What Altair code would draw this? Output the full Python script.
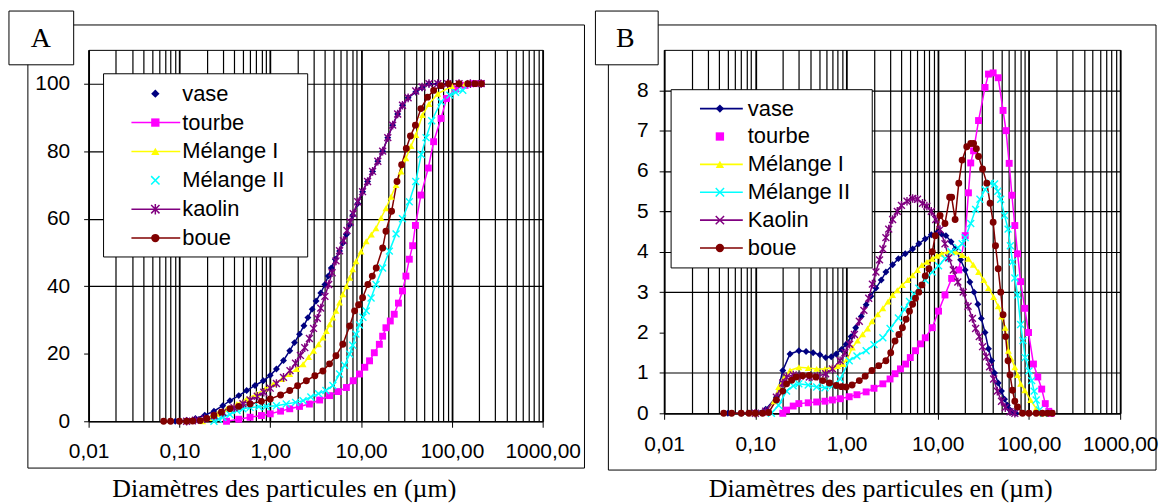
import altair as alt
import pandas as pd

# ---------------------------------------------------------------------------
# A : cumulative distribution (%) versus particle diameter (um)
# ---------------------------------------------------------------------------
A_NAMES = ["vase", "tourbe", "Mélange I", "Mélange II", "kaolin", "boue"]

A_VASE_UM = [0.09, 0.12, 0.15, 0.19, 0.24, 0.3, 0.36, 0.45, 0.55, 0.68, 0.84, 1.0, 1.17, 1.4, 1.64,
             1.85, 2.1, 2.35, 2.6, 2.9, 3.2, 3.6, 4.0, 4.35, 4.7, 5.2, 5.8, 6.3, 6.9, 7.5, 8.1, 9.2,
             10.4, 11.8, 13.4, 15.3, 17.3, 19.7, 22.3, 25.3, 28.6, 33, 40, 47, 56, 70, 90]
A_VASE_PCT = [0, 0.3, 0.8, 1.8, 3, 4.6, 6.1, 7.6, 9.1, 10.6, 12, 13.6, 15.5, 18, 20.9, 23.3, 25.8,
              28.3, 30.7, 33.2, 35.6, 38, 40.5, 43, 45.4, 48, 50.4, 52.8, 55.3, 58.2, 61, 64.5, 68,
              71, 74, 77, 80, 84, 87.7, 91, 93.6, 95.8, 97.5, 98.8, 100, 100, 100]

A_TOURBE_UM = [0.33, 0.45, 0.6, 0.8, 1.0, 1.3, 1.64, 2.1, 2.7, 3.5, 4.5, 5.6, 6.9, 8.2, 9.6, 11,
               12.4, 14, 15.9, 17.3, 18.8, 21, 23.2, 25.8, 28.6, 31.2, 34, 37, 39.7, 45.6, 55, 63,
               76, 87.5, 110, 140, 175, 210]
A_TOURBE_PCT = [0, 0.6, 1.2, 1.7, 2.2, 3.0, 3.7, 4.4, 5.1, 6.3, 7.6, 8.8, 10, 12, 14, 16, 17.9,
                20.3, 22.8, 25.2, 27.7, 29.7, 31.7, 35, 38.6, 43, 48, 52, 58, 67, 75, 82.8, 89.7,
                95.6, 98.5, 99.5, 100, 100]

A_MEL1_UM = [0.18, 0.22, 0.26, 0.33, 0.43, 0.55, 0.71, 0.88, 1.08, 1.35, 1.64, 1.95, 2.3, 2.65, 3.0,
             3.4, 3.8, 4.15, 4.5, 4.9, 5.3, 5.8, 6.3, 6.9, 7.5, 8.1, 8.8, 10, 11.4, 13, 14.6, 16.6,
             18.8, 21.4, 24.3, 27.6, 31.2, 35.5, 40.2, 47.5, 56, 70, 100, 140, 210]
A_MEL1_PCT = [0, 1.0, 2.2, 3.6, 5.1, 6.6, 8.1, 9.6, 11, 12.5, 14, 15.5, 16.9, 19, 20.9, 22.8, 24.8,
              26.7, 28.7, 30.7, 32.7, 35.2, 37.6, 40, 42.5, 45, 47.4, 50.3, 53.3, 55.3, 57.2, 60.2,
              63.1, 66.5, 70, 74, 77.9, 81.5, 84.8, 90.7, 94, 97, 99.3, 100, 100]

A_MEL2_UM = [0.24, 0.27, 0.3, 0.36, 0.43, 0.5, 0.6, 0.75, 0.9, 1.17, 1.5, 1.9, 2.3, 2.8, 3.4, 4.1,
             4.9, 5.8, 6.6, 7.5, 8.1, 8.8, 9.6, 10.5, 11.4, 12.9, 14.6, 17.3, 20.5, 24.3, 28.6, 34,
             40, 46, 52, 60, 76, 95, 110, 132]
A_MEL2_PCT = [0, 0.6, 1.2, 2.0, 3.2, 3.7, 4.1, 4.3, 4.4, 4.6, 5.1, 5.6, 6.1, 7.2, 8.2, 9.1, 10.6, 14,
              16.6, 19.9, 22.5, 25.8, 28.5, 30.8, 32.7, 36.5, 40.5, 45.4, 50.4, 55.5, 60, 65, 71, 79,
              84, 89, 94.6, 96.6, 97.4, 98]

A_KAOLIN_UM = [0.12, 0.15, 0.19, 0.24, 0.3, 0.4, 0.5, 0.6, 0.72, 0.85, 1.0, 1.17, 1.4, 1.65, 1.9,
               2.15, 2.4, 2.7, 3.0, 3.3, 3.6, 4.0, 4.4, 4.8, 5.3, 5.8, 6.4, 7.0, 7.6, 8.2, 9.2, 10.4,
               11.8, 13.4, 15.3, 17.3, 19.7, 22.3, 25.3, 28.6, 33, 40, 47, 56, 70, 90, 120, 160, 210]
A_KAOLIN_PCT = [0, 0.3, 0.8, 1.6, 2.6, 4.0, 5.2, 6.3, 7.4, 8.6, 9.8, 11.2, 13, 15, 17.2, 19.5, 21.8,
                24.5, 27.5, 30.5, 33.5, 37, 40.5, 44, 47.5, 50.5, 53.5, 56.5, 59, 61.5, 65, 68, 71,
                74, 77, 80, 84, 87.7, 91, 93.6, 95.8, 97.8, 99, 100, 100, 100, 100, 100, 100]

A_BOUE_UM = [0.067, 0.08, 0.1, 0.12, 0.14, 0.17, 0.2, 0.24, 0.29, 0.36, 0.45, 0.6, 0.8, 1.0, 1.3,
             1.64, 2.0, 2.5, 3.1, 3.8, 4.5, 5.3, 6.3, 7.5, 8.5, 9.4, 10.4, 11.9, 13.3, 14.7, 17.3,
             18.8, 21.7, 24.9, 28, 31.5, 35, 39.7, 45.6, 54, 63, 76, 92, 120, 150, 180, 212]
A_BOUE_PCT = [0, 0, 0, 0, 0.1, 0.2, 0.8, 1.7, 2.7, 3.7, 4.4, 5.1, 5.9, 6.6, 7.8, 9.1, 10.5, 12, 13.5,
              14.9, 17, 19.4, 22.8, 28.2, 32.7, 34.5, 36.6, 40.5, 43, 45.4, 51.3, 56.3, 62.2, 71, 76,
              80.8, 84.5, 87.7, 92.6, 96, 98, 99.4, 100, 100, 100, 100, 100]

# ---------------------------------------------------------------------------
# B : frequency distribution (%) versus particle diameter (um)
# ---------------------------------------------------------------------------
B_NAMES = ["vase", "tourbe", "Mélange I", "Mélange II", "Kaolin", "boue"]

B_VASE_UM = [0.05, 0.07, 0.1, 0.13, 0.17, 0.2, 0.24, 0.3, 0.36, 0.43, 0.51, 0.59, 0.68, 0.77, 0.88,
             0.99, 1.12, 1.26, 1.45, 1.64, 1.85, 2.1, 2.4, 2.7, 3.2, 3.7, 4.4, 5.3, 6.2, 7.3, 8.5,
             9.9, 11, 12.3, 14, 15.6, 17.8, 20, 22.5, 25, 27.5, 30, 33, 36, 39, 42, 46, 50, 54, 58,
             62, 66, 72]
B_VASE_PCT = [0, 0, 0.02, 0.1, 0.4, 1.06, 1.47, 1.55, 1.53, 1.5, 1.45, 1.38, 1.4, 1.47, 1.58, 1.71,
              1.9, 2.12, 2.4, 2.69, 2.9, 3.1, 3.3, 3.5, 3.68, 3.83, 3.95, 4.07, 4.2, 4.32, 4.42, 4.48,
              4.44, 4.4, 4.25, 4.07, 3.8, 3.55, 3.25, 3.0, 2.7, 2.35, 2.0, 1.6, 1.3, 1.0, 0.75, 0.55,
              0.35, 0.2, 0.08, 0.02, 0]

B_TOURBE_UM = [0.2, 0.22, 0.26, 0.3, 0.38, 0.47, 0.58, 0.7, 0.85, 1.07, 1.3, 1.64, 2.0, 2.5, 3.0,
               3.4, 3.9, 4.45, 5.0, 5.7, 6.5, 7.3, 8.7, 10.2, 12, 14.2, 17, 20, 21.7, 23, 24.7, 28,
               33, 36, 40.5, 46, 52, 56, 60.7, 65, 70, 75, 81, 90, 99, 112, 125, 138, 151, 165, 175]
B_TOURBE_PCT = [0, 0.08, 0.18, 0.24, 0.26, 0.28, 0.3, 0.33, 0.36, 0.41, 0.46, 0.53, 0.62, 0.73, 0.85,
                0.98, 1.1, 1.22, 1.38, 1.55, 1.72, 1.87, 2.12, 2.53, 2.93, 3.34, 3.55, 4.4, 5.46, 6.2,
                6.5, 7.25, 8.07, 8.4, 8.43, 8.31, 7.5, 7.0, 6.19, 5.4, 4.65, 3.95, 3.26, 2.6, 2.0,
                1.22, 0.9, 0.6, 0.24, 0.05, 0]

B_MEL1_UM = [0.1, 0.13, 0.16, 0.18, 0.21, 0.24, 0.3, 0.38, 0.47, 0.58, 0.7, 0.8, 0.91, 1.02, 1.16,
             1.32, 1.5, 1.7, 1.9, 2.2, 2.5, 2.85, 3.2, 3.6, 4.1, 4.7, 5.3, 6.0, 6.7, 7.6, 8.7, 9.8,
             11, 13, 15.6, 18.5, 21.7, 24.5, 28, 32, 36, 41, 46, 50, 55, 59.5, 64, 70, 75, 81, 90,
             104, 120, 140]
B_MEL1_PCT = [0, 0.05, 0.3, 0.65, 0.9, 1.06, 1.14, 1.12, 1.1, 1.1, 1.14, 1.17, 1.22, 1.35, 1.63, 1.8,
              1.96, 2.1, 2.28, 2.45, 2.6, 2.77, 2.93, 3.05, 3.18, 3.3, 3.42, 3.55, 3.67, 3.75, 3.83,
              3.9, 3.95, 4.0, 4.0, 3.92, 3.83, 3.68, 3.5, 3.3, 3.1, 2.88, 2.65, 2.4, 2.12, 1.55,
              1.35, 1.14, 0.95, 0.73, 0.57, 0.33, 0.12, 0]

B_MEL2_UM = [0.15, 0.18, 0.22, 0.26, 0.3, 0.38, 0.47, 0.58, 0.7, 0.85, 1.07, 1.3, 1.64, 2.0, 2.5,
             3.0, 3.7, 4.3, 4.9, 5.5, 6.2, 7.3, 8.7, 10.2, 12, 14, 16.6, 18.5, 20, 23, 26, 29, 33,
             37.7, 42, 45.5, 49, 54, 59, 62.5, 66, 70, 75, 81, 86, 91, 100, 107, 114, 120, 130, 145]
B_MEL2_PCT = [0, 0.2, 0.55, 0.68, 0.73, 0.7, 0.65, 0.63, 0.68, 0.85, 1.3, 1.42, 1.55, 1.7, 1.87, 2.1,
              2.36, 2.57, 2.77, 2.95, 3.1, 3.3, 3.5, 3.65, 3.83, 4.0, 4.1, 4.2, 4.35, 4.7, 5.05, 5.3,
              5.54, 5.7, 5.68, 5.5, 5.3, 4.9, 4.56, 4.15, 3.75, 3.35, 2.93, 2.2, 1.8, 1.38, 1.05,
              0.81, 0.55, 0.33, 0.08, 0]

B_KAOLIN_UM = [0.1, 0.13, 0.17, 0.2, 0.22, 0.26, 0.31, 0.39, 0.48, 0.59, 0.7, 0.85, 0.96, 1.08, 1.22,
               1.38, 1.55, 1.75, 1.92, 2.1, 2.3, 2.5, 2.7, 2.9, 3.2, 3.6, 4.0, 4.6, 5.3, 6.0, 6.8,
               7.6, 8.5, 9.5, 10.6, 12, 13.2, 14.8, 16.6, 19, 21.5, 24, 26, 28.5, 31, 34, 37, 41, 45,
               50, 55, 62, 70]
B_KAOLIN_PCT = [0, 0.05, 0.4, 0.75, 0.9, 0.95, 0.92, 0.9, 0.92, 0.98, 1.1, 1.3, 1.5, 1.71, 1.95, 2.28,
                2.55, 2.85, 3.2, 3.5, 3.8, 4.07, 4.35, 4.56, 4.8, 5.0, 5.15, 5.25, 5.32, 5.3, 5.2,
                5.13, 5.0, 4.8, 4.55, 4.2, 3.85, 3.55, 3.25, 3.0, 2.65, 2.35, 2.1, 1.9, 1.65, 1.4,
                1.15, 0.85, 0.55, 0.3, 0.14, 0.04, 0]

B_BOUE_UM = [0.045, 0.055, 0.07, 0.085, 0.1, 0.12, 0.14, 0.17, 0.2, 0.22, 0.25, 0.28, 0.33, 0.39,
             0.46, 0.55, 0.65, 0.77, 0.88, 0.99, 1.15, 1.38, 1.6, 1.9, 2.25, 2.7, 3.05, 3.4, 3.75,
             4.1, 4.5, 4.9, 5.3, 5.7, 6.2, 6.7, 7.3, 8.0, 8.7, 9.4, 10.6, 12, 13.5, 14.2, 15.5, 17,
             18.5, 20.8, 23, 24.7, 26.5, 28, 31, 34.5, 37.5, 40.5, 43, 46, 49, 52, 55.5, 59, 62, 66,
             70, 75, 85, 100, 120, 140, 160, 180]
B_BOUE_PCT = [0, 0, 0, 0, 0, 0, 0.02, 0.33, 0.55, 0.73, 0.82, 0.9, 0.93, 0.94, 0.9, 0.81, 0.75, 0.69,
              0.66, 0.65, 0.7, 0.81, 0.92, 1.06, 1.18, 1.3, 1.5, 1.79, 1.95, 2.12, 2.33, 2.53, 2.7,
              2.85, 3.0, 3.18, 3.4, 3.58, 4.0, 4.4, 4.9, 4.7, 5.35, 5.35, 4.8, 5.7, 6.27, 6.6, 6.68,
              6.68, 6.55, 6.36, 6.05, 5.7, 5.2, 4.73, 4.15, 3.58, 3.0, 2.44, 1.9, 1.3, 0.95, 0.57,
              0.3, 0.16, 0, 0, 0, 0, 0, 0]

X_TITLE = "Diamètres des particules en (µm)"

# ---------------------------------------------------------------------------
# styling
# ---------------------------------------------------------------------------
COLORS = ["#000080", "#FF00FF", "#FFFF00", "#00FFFF", "#800080", "#800000"]
SANS = "Liberation Sans"
SERIF = "Liberation Serif"

X_PATH = "M-1,-1L1,1M-1,1L1,-1"
STAR_PATH = "M-1,-1L1,1M-1,1L1,-1M0,-1.25L0,1.25"
# (shape, filled) of the plotted markers, in series order
MARKERS = [("diamond", True), ("square", True), ("triangle-up", True),
           (X_PATH, False), (STAR_PATH, False), ("circle", True)]

# key glyphs: (shape, filled) and whether a line segment runs through the glyph
A_KEY_MARKS = MARKERS
A_KEY_SEG = [False, True, True, False, True, True]
B_KEY_MARKS = [("diamond", True), ("square", True), ("triangle-up", True),
               (X_PATH, False), (X_PATH, False), ("circle", True)]
B_KEY_SEG = [True, False, True, True, True, True]

DECADE = "abs(log(datum.value) / LN10 - round(log(datum.value) / LN10)) < 0.001"
GRID_AT = [m * 10.0 ** e for e in range(-2, 3) for m in range(1, 10)] + [1000.0]


def long_table(names, pairs):
    rows = []
    for name, (um, pct) in zip(names, pairs):
        if len(um) != len(pct):
            raise ValueError(f"{name}: {len(um)} diameters but {len(pct)} values")
        rows += [{"serie": name, "um": d, "pct": p} for d, p in zip(um, pct)]
    return pd.DataFrame(rows)


def key_layers(names, key_marks, key_seg, *, box, first, step, seg, mark_x, label_x):
    """Boxed key drawn inside the plot area (pixel offsets from the plot origin)."""
    rows = pd.DataFrame({"serie": names, "rank": list(range(len(names)))})
    kb = alt.Chart(rows).transform_calculate(py=f"{first} + datum.rank * {step}")
    ky = alt.Y("py:Q", scale=None, axis=None)
    one = alt.Chart(alt.Data(values=[{"k": 0}]))
    frame = one.mark_rect(fill="white", stroke="black", strokeWidth=1).encode(
        x=alt.value(box[0]), x2=alt.value(box[1]), y=alt.value(box[2]), y2=alt.value(box[3])
    )
    with_seg = [n for n, s in zip(names, key_seg) if s]
    segs = kb.transform_filter(alt.FieldOneOfPredicate(field="serie", oneOf=with_seg)).mark_rule(
        strokeWidth=1.6
    ).encode(
        x=alt.value(seg[0]), x2=alt.value(seg[1]), y=ky,
        color=alt.Color("serie:N", scale=alt.Scale(domain=names, range=COLORS), legend=None),
    )
    glyphs = [
        kb.transform_filter(alt.datum.serie == name)
        .mark_point(shape=shape, filled=filled, color=col, size=70, opacity=1, strokeWidth=1.5)
        .encode(x=alt.value(mark_x), y=ky)
        for name, col, (shape, filled) in zip(names, COLORS, key_marks)
    ]
    labels = kb.mark_text(align="left", baseline="middle", font=SANS, fontSize=22, color="black").encode(
        x=alt.value(label_x), y=ky, text="serie:N"
    )
    return [frame, segs, *glyphs, labels]


def panel(table, names, key, *, width, height, y_max, y_ticks, y_no_grid, y_pad, x_pad,
          frame, tag, tag_box, tag_xy, title_x, title_y):
    x = alt.X(
        "um:Q",
        scale=alt.Scale(type="log", domain=[0.01, 1000], nice=False),
        axis=alt.Axis(
            values=GRID_AT, grid=True, gridColor="black", gridOpacity=1,
            gridWidth={"condition": {"test": DECADE, "value": 1.8}, "value": 1.2},
            ticks=True, tickSize=6, tickColor="black", tickWidth=1,
            tickOpacity={"condition": {"test": DECADE, "value": 1}, "value": 0},
            labelExpr=f"({DECADE}) ? replace(format(datum.value, '.2f'), '.', ',') : ''",
            labelFont=SANS, labelFontSize=21, labelColor="black", labelPadding=x_pad,
            labelOverlap=False, labelFlush=False,
            domainColor="black", domainWidth=1,
            title=X_TITLE, titleFont=SERIF, titleFontSize=26, titleFontWeight="normal",
            titleColor="black", titleX=title_x, titleY=title_y,
            titleBaseline="alphabetic", titleAlign="center",
        ),
    )
    y = alt.Y(
        "pct:Q",
        scale=alt.Scale(domain=[0, y_max], nice=False, zero=True),
        axis=alt.Axis(
            values=y_ticks, grid=True, gridColor="black", gridWidth=1.2,
            gridOpacity={"condition": {"test": f"datum.value == {y_no_grid}", "value": 0}, "value": 1},
            tickSize=5, tickColor="black", labelFont=SANS, labelFontSize=21, labelColor="black",
            labelPadding=y_pad, domainColor="black", domainWidth=1, title=None,
        ),
    )
    base = alt.Chart(table)

    lines = base.mark_line(strokeWidth=1.5, opacity=1).encode(
        x=x, y=y,
        color=alt.Color("serie:N", scale=alt.Scale(domain=names, range=COLORS), legend=None),
    )
    points = [
        base.transform_filter(alt.datum.serie == name)
        .mark_point(shape=shape, filled=filled, color=col, size=48, opacity=1, strokeWidth=1.4)
        .encode(x=x, y=y)
        for name, col, (shape, filled) in zip(names, COLORS, MARKERS)
    ]

    one = alt.Chart(alt.Data(values=[{"k": 0}]))
    box = one.mark_rect(fillOpacity=0, stroke="black", strokeWidth=1).encode(
        x=alt.value(frame[0]), x2=alt.value(frame[1]), y=alt.value(frame[2]), y2=alt.value(frame[3])
    )
    tag_rect = one.mark_rect(fill="white", stroke="black", strokeWidth=1).encode(
        x=alt.value(tag_box[0]), x2=alt.value(tag_box[1]), y=alt.value(tag_box[2]), y2=alt.value(tag_box[3])
    )
    tag_text = one.mark_text(text=tag, font=SERIF, fontSize=28, color="black",
                             align="center", baseline="middle").encode(
        x=alt.value(tag_xy[0]), y=alt.value(tag_xy[1])
    )
    return alt.layer(box, lines, *points, *key, tag_rect, tag_text).properties(width=width, height=height)


table_a = long_table(A_NAMES, [(A_VASE_UM, A_VASE_PCT), (A_TOURBE_UM, A_TOURBE_PCT),
                               (A_MEL1_UM, A_MEL1_PCT), (A_MEL2_UM, A_MEL2_PCT),
                               (A_KAOLIN_UM, A_KAOLIN_PCT), (A_BOUE_UM, A_BOUE_PCT)])
table_b = long_table(B_NAMES, [(B_VASE_UM, B_VASE_PCT), (B_TOURBE_UM, B_TOURBE_PCT),
                               (B_MEL1_UM, B_MEL1_PCT), (B_MEL2_UM, B_MEL2_PCT),
                               (B_KAOLIN_UM, B_KAOLIN_PCT), (B_BOUE_UM, B_BOUE_PCT)])

key_a = key_layers(A_NAMES, A_KEY_MARKS, A_KEY_SEG, box=(15, 220, 24, 208), first=44, step=29,
                   seg=(43, 92), mark_x=67, label_x=94)
key_b = key_layers(B_NAMES, B_KEY_MARKS, B_KEY_SEG, box=(7, 209, 40, 219), first=59, step=28,
                   seg=(36, 79), mark_x=56, label_x=84)

panel_a = panel(
    table_a, A_NAMES, key_a, width=456, height=373, y_max=110,
    y_ticks=[0, 20, 40, 60, 80, 100], y_no_grid=20, y_pad=14, x_pad=13,
    frame=(-61, 498, -25, 420), tag="A", tag_box=(-80, -15, -39, 15), tag_xy=(-48, -11),
    title_x=196, title_y=76,
)
panel_b = panel(
    table_b, B_NAMES, key_b, width=458, height=365, y_max=9,
    y_ticks=[0, 1, 2, 3, 4, 5, 6, 7, 8], y_no_grid=2, y_pad=11, x_pad=14,
    frame=(-56, 494, -25, 422), tag="B", tag_box=(-69, -6, -39, 15), tag_xy=(-39, -11),
    title_x=217, title_y=84,
)

chart = (
    alt.hconcat(panel_a, panel_b, spacing=9)
    .resolve_scale(x="independent", y="independent", color="independent")
    .properties(padding={"left": 8, "top": 9, "right": 0, "bottom": 0}, background="white")
    .configure_view(stroke="black", strokeWidth=1, fill="white")
)

chart.save("out.html", embed_options={"renderer": "svg", "actions": False})
